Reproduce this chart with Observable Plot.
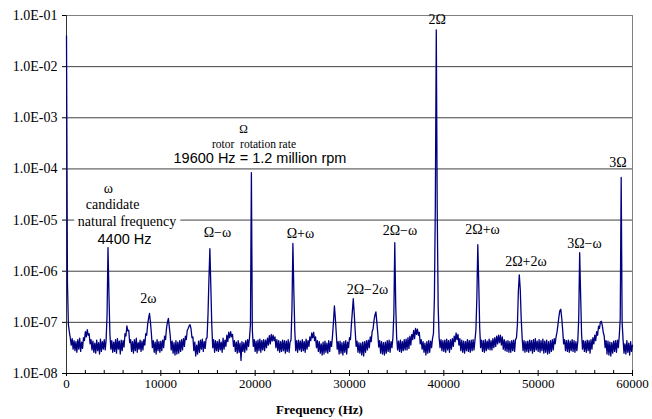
<!DOCTYPE html>
<html><head><meta charset="utf-8">
<script src="https://cdn.jsdelivr.net/npm/d3@7"></script>
<script src="https://cdn.jsdelivr.net/npm/@observablehq/plot@0.6"></script>
<style>body{margin:0;background:#fff}</style>
</head><body><div id="chart"></div>
<script>
// Spectrum amplitude, one value per 100 Hz bin (0 … 60000 Hz), in units of 1e-8
const unit = 1e-8;
const binHz = 100;
const amplitude = [
  4000000, 60, 9, 6.5, 5, 3.6, 4.8, 3.0, 4.4, 2.8,
  4.2, 2.6, 4.6, 3.0, 4.9, 2.7, 4.1, 3.1, 5.0, 4.4,
  6.6, 5.2, 7.2, 5.6, 6.0, 3.8, 4.6, 2.9, 4.3, 2.6,
  3.9, 2.5, 4.5, 2.8, 4.0, 2.4, 4.7, 2.7, 4.2, 3.0,
  4.6, 2.9, 4.5, 14, 290, 35, 6, 3.0, 4.4, 2.6,
  4.1, 2.7, 4.6, 2.5, 4.8, 3.0, 4.3, 2.4, 4.5, 2.8,
  4.4, 3.3, 6.0, 5.4, 8.5, 6.8, 7.0, 4.0, 4.6, 2.7,
  4.2, 2.5, 4.6, 2.8, 4.9, 2.6, 4.0, 3.0, 4.5, 2.7,
  4.3, 2.9, 4.6, 3.6, 6.0, 5.6, 9, 12, 15, 10,
  6.0, 3.2, 4.4, 2.6, 4.1, 2.4, 4.6, 2.8, 4.2, 2.6,
  4.3, 2.8, 4.5, 3.2, 5.4, 4.6, 7.6, 10, 12, 8.0,
  5.4, 2.9, 4.3, 2.5, 4.0, 2.3, 4.4, 2.4, 4.1, 2.5,
  4.4, 2.7, 4.6, 2.9, 4.8, 3.4, 5.4, 4.6, 7.0, 7.6,
  8.5, 9.0, 7.5, 5.0, 5.2, 2.8, 4.1, 2.2, 3.6, 2.4,
  4.3, 2.6, 4.5, 3.0, 4.7, 2.7, 4.2, 3.1, 4.8, 5.0,
  14, 70, 275, 50, 9, 3.2, 4.6, 2.6, 4.4, 2.8,
  4.2, 2.7, 4.6, 2.9, 4.1, 2.6, 4.9, 3.0, 4.5, 3.4,
  5.6, 4.2, 6.4, 5.0, 6.6, 5.2, 5.8, 3.4, 4.4, 2.7,
  4.1, 2.5, 4.4, 2.6, 3.9, 1.8, 4.2, 2.7, 4.0, 2.6,
  4.4, 2.9, 4.6, 3.4, 5.0, 9, 8500, 7, 3.4, 4.6,
  2.7, 4.3, 2.5, 4.5, 2.8, 4.7, 2.6, 4.4, 2.9, 4.6,
  2.8, 4.5, 3.2, 4.9, 3.6, 5.5, 3.8, 5.8, 4.3, 5.6,
  4.4, 5.2, 3.2, 4.6, 2.8, 4.4, 2.6, 4.2, 2.7, 4.5,
  2.8, 4.4, 2.5, 4.3, 2.7, 4.6, 2.6, 4.1, 4.5, 18,
  350, 40, 7, 2.8, 4.4, 2.6, 4.5, 2.9, 4.3, 2.7,
  4.6, 2.8, 4.2, 2.6, 4.7, 3.0, 4.4, 3.4, 5.2, 4.4,
  6.2, 5.0, 6.4, 4.4, 5.2, 3.2, 4.4, 2.7, 4.2, 2.5,
  3.8, 2.3, 4.1, 2.4, 4.3, 2.6, 3.9, 2.5, 4.4, 2.7,
  4.2, 3.4, 5.5, 10, 21, 12, 6, 3.0, 4.2, 2.4,
  4.3, 2.5, 4.0, 2.3, 4.2, 2.6, 4.4, 2.4, 4.1, 3.2,
  5.0, 4.6, 9, 16, 29, 15, 7, 3.4, 4.3, 2.6,
  4.0, 2.5, 3.9, 2.3, 4.1, 2.2, 4.2, 2.6, 4.4, 2.9,
  4.5, 3.2, 5.2, 4.2, 6.6, 7.4, 11, 14, 16, 10,
  6.0, 3.3, 4.4, 2.5, 4.2, 2.4, 4.0, 2.3, 4.1, 2.5,
  4.4, 2.7, 4.5, 2.6, 4.2, 3.2, 5.0, 14, 360, 22,
  5.0, 2.9, 4.3, 2.7, 4.5, 2.6, 4.2, 2.8, 4.6, 2.9,
  4.7, 2.9, 5.0, 3.1, 5.4, 3.6, 5.8, 4.6, 7.0, 4.8,
  7.6, 5.8, 7.4, 5.6, 6.4, 3.8, 4.6, 3.0, 4.2, 2.6,
  3.9, 2.3, 4.2, 2.5, 4.4, 2.6, 4.3, 3.2, 4.8, 6.0,
  30, 2000, 5200000, 1500, 20, 5.0, 3.2, 4.6, 2.8, 4.4,
  2.7, 4.5, 2.6, 4.7, 2.9, 4.4, 2.6, 4.6, 3.0, 4.8,
  3.4, 5.4, 4.2, 6.2, 4.6, 5.8, 3.6, 4.8, 2.8, 4.5,
  2.6, 4.3, 2.5, 4.2, 2.8, 4.6, 2.7, 4.4, 2.6, 4.5,
  2.8, 4.6, 2.9, 4.5, 7, 30, 330, 60, 8, 3.2,
  4.5, 2.7, 4.4, 2.6, 4.6, 2.8, 4.3, 3.0, 4.7, 2.9,
  4.4, 2.9, 4.8, 3.2, 5.0, 3.4, 5.4, 3.8, 5.6, 4.0,
  5.6, 3.6, 5.2, 3.0, 4.6, 2.8, 4.3, 2.7, 4.4, 2.6,
  4.2, 2.6, 4.4, 2.8, 4.5, 2.7, 4.6, 5.0, 9, 40,
  85, 45, 12, 5.0, 2.8, 4.4, 2.6, 4.2, 2.7, 4.3,
  2.6, 4.5, 2.8, 4.4, 2.5, 4.6, 2.7, 4.8, 2.9, 4.3,
  2.7, 4.6, 2.6, 4.4, 2.8, 4.7, 2.5, 4.3, 2.6, 4.5,
  2.4, 4.2, 2.5, 4.4, 2.7, 4.6, 2.9, 4.8, 3.8, 5.2,
  6.5, 9, 13, 17, 18, 12, 7, 3.8, 4.6, 2.8,
  4.4, 2.7, 4.5, 2.6, 4.3, 2.8, 4.6, 2.7, 4.4, 2.6,
  4.2, 2.8, 4.2, 12, 230, 35, 6, 3.0, 4.4, 2.7,
  4.3, 2.6, 4.5, 2.8, 4.4, 2.5, 4.6, 3.0, 5.0, 3.8,
  5.6, 4.4, 6.6, 5.6, 8.4, 7.6, 10.2, 10.5, 8.6, 6.4,
  5.4, 3.2, 4.4, 2.4, 4.3, 2.3, 4.1, 2.2, 4.0, 2.5,
  4.3, 2.7, 4.4, 2.6, 4.5, 3.2, 5.5, 12, 6800, 10,
  4.6, 2.5, 3.8, 2.4, 4.4, 2.6, 3.9, 2.3, 4.2, 2.7,
  3.6
];

const yTicks = [1e-8, 1e-7, 1e-6, 1e-5, 1e-4, 1e-3, 1e-2, 1e-1];
const yTickLabels = ["1.0E-08", "1.0E-07", "1.0E-06", "1.0E-05", "1.0E-04", "1.0E-03", "1.0E-02", "1.0E-01"];
const xTicks = [0, 10000, 20000, 30000, 40000, 50000, 60000];
const xMinorTicks = [2000, 4000, 6000, 8000, 12000, 14000, 16000, 18000, 22000, 24000, 26000, 28000,
  32000, 34000, 36000, 38000, 42000, 44000, 46000, 48000, 52000, 54000, 56000, 58000];

// Peak labels: text, frequency (Hz), amplitude at the label baseline
const peakLabels = [
  {text: "2Ω", f: 39300, a: 6.7e-2},
  {text: "3Ω", f: 58450, a: 1.08e-4},
  {text: "Ω−ω", f: 16000, a: 4.6e-6},
  {text: "Ω+ω", f: 24800, a: 4.4e-6},
  {text: "2Ω−ω", f: 35350, a: 5.2e-6},
  {text: "2Ω−2ω", f: 31900, a: 3.66e-7},
  {text: "2Ω+ω", f: 44100, a: 5.46e-6},
  {text: "2Ω+2ω", f: 48700, a: 1.24e-6},
  {text: "3Ω−ω", f: 54900, a: 2.9e-6},
  {text: "2ω", f: 8690, a: 2.44e-7}
];
const omegaSymbol = [{text: "ω", f: 4450, a: 3.4e-5}];
const omegaNote = [{text: "candidate", f: 4880, a: 1.62e-5}];
const omegaNote2 = [{text: "natural frequency", f: 6410, a: 7.8e-6}];
const omegaHz = [{text: "4400 Hz", f: 6150, a: 3.33e-6}];
const rotorNote = [
  {text: "Ω", f: 18760, a: 5.15e-4},
  {text: "rotor  rotation rate", f: 19875, a: 2.62e-4}
];
const rotorHz = [{text: "19600 Hz = 1.2 million rpm", f: 20510, a: 1.28e-4}];

const data = amplitude.map((v, i) => ({f: i * binHz, a: v * unit}));
const serif = "'Liberation Serif', 'Times New Roman', serif";
const sans = "'Liberation Sans', Arial, sans-serif";

const chart = Plot.plot({
  width: 652, height: 419,
  marginLeft: 66, marginRight: 20, marginTop: 15, marginBottom: 46,
  style: {fontFamily: serif, fontSize: "13px", background: "white", color: "black"},
  x: {domain: [0, 60000]},
  y: {type: "log", domain: [1e-8, 1e-1]},
  marks: [
    Plot.ruleY(yTicks.slice(1, -1), {stroke: "#404040", strokeWidth: 1}),
    Plot.ruleY([1e-1], {stroke: "#808080"}),
    Plot.ruleX([60000], {stroke: "#808080"}),
    Plot.axisY(yTicks, {tickSize: 4, tickPadding: 5, tickFormat: d => yTickLabels[yTicks.indexOf(d)], label: null, fontSize: 14}),
    Plot.axisX(xTicks, {tickSize: 3, tickPadding: 2, tickFormat: d => String(d), label: null, fontSize: 13}),
    Plot.axisX([...xTicks, ...xMinorTicks], {tickSize: 3, dy: -3, tickFormat: () => "", label: null}),
    Plot.ruleX([0], {stroke: "#333"}),
    Plot.ruleY([1e-8], {stroke: "black"}),
    Plot.line(data, {x: "f", y: "a", stroke: "#000080", strokeWidth: 1.3}),
    Plot.text(peakLabels, {x: "f", y: "a", text: "text", lineAnchor: "bottom", fontSize: 14, fontFamily: serif}),
    Plot.text(omegaSymbol, {x: "f", y: "a", text: "text", lineAnchor: "bottom", fontSize: 14, fontFamily: serif}),
    Plot.text(omegaNote, {x: "f", y: "a", text: "text", lineAnchor: "bottom", fontSize: 14, fontFamily: serif}),
    Plot.text(omegaNote2, {x: "f", y: "a", text: "text", lineAnchor: "bottom", fontSize: 14, fontFamily: serif, stroke: "white", strokeWidth: 8, fill: "black"}),
    Plot.text(omegaHz, {x: "f", y: "a", text: "text", lineAnchor: "bottom", fontSize: 14.5, fontFamily: sans}),
    Plot.text(rotorNote, {x: "f", y: "a", text: "text", lineAnchor: "bottom", fontSize: 11.5, fontFamily: serif}),
    Plot.text(rotorHz, {x: "f", y: "a", text: "text", lineAnchor: "bottom", fontSize: 14.5, fontFamily: sans}),
    Plot.text(["Frequency (Hz)"], {frameAnchor: "bottom", dx: -30, dy: 40, lineAnchor: "bottom", fontWeight: "bold", fontSize: 13, fontFamily: serif})
  ]
});
document.getElementById("chart").appendChild(chart);
</script>
</body></html>
